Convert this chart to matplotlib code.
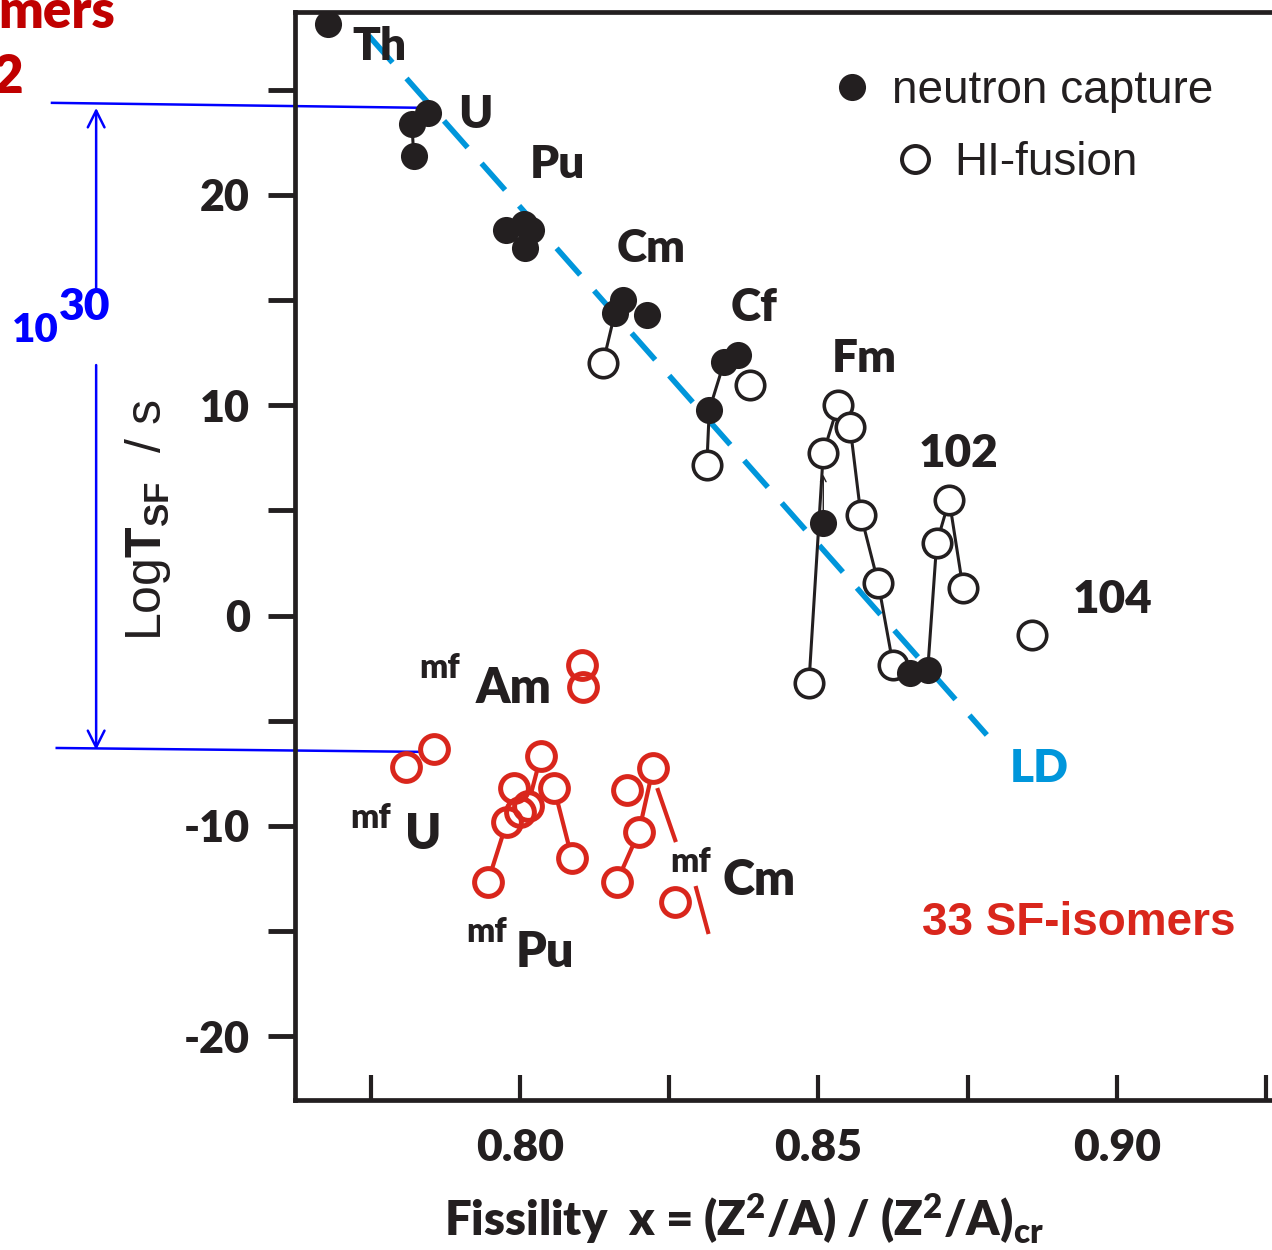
import matplotlib
matplotlib.use("Agg")
import matplotlib.pyplot as plt
from matplotlib.lines import Line2D

ink = '#231f20'
red = '#d9261c'
ld_blue = '#0096db'
blue = '#0000ff'
heavy = 'heavy'

plt.rcParams['mathtext.fontset'] = 'custom'
plt.rcParams['mathtext.rm'] = 'Liberation Sans'
plt.rcParams['mathtext.bf'] = 'Lato:heavy'
plt.rcParams['mathtext.sf'] = 'Liberation Sans:bold'

#################### DATA ####################

# neutron capture (filled)
nc_x = [0.7678, 0.7846, 0.7819, 0.7822, 0.7977, 0.8007, 0.8018, 0.8008,
        0.8159, 0.8173, 0.8213, 0.8342, 0.8365, 0.8317, 0.8508, 0.8653, 0.8683]
nc_y = [28.13, 23.90, 23.38, 21.85, 18.34, 18.62, 18.34, 17.48,
        14.39, 15.01, 14.29, 12.06, 12.39, 9.77, 4.40, -2.73, -2.59]

# HI-fusion (open)
hi_x = [0.8139, 0.8385, 0.8313, 0.8533, 0.8553, 0.8508, 0.8571, 0.8600,
        0.8625, 0.8484, 0.8698, 0.8719, 0.8742, 0.8858]
hi_y = [12.01, 10.96, 7.16, 10.01, 8.97, 7.73, 4.78, 1.55,
        -2.35, -3.21, 3.45, 5.49, 1.31, -0.93]

# isotope chains (black connecting lines)
chains = [
    ([0.7819, 0.7822], [23.38, 21.85]),
    ([0.8159, 0.8139], [14.39, 12.01]),
    ([0.8313, 0.8317, 0.8342], [7.16, 9.77, 12.06]),
    ([0.8484, 0.8508, 0.8533], [-3.21, 7.73, 10.01]),
    ([0.8553, 0.8571, 0.8600, 0.8625], [8.97, 4.78, 1.55, -2.35]),
    ([0.8683, 0.8698, 0.8719, 0.8742], [-2.59, 3.45, 5.49, 1.31]),
]

# fission isomers (red)
iso_x = [0.8104, 0.8106, 0.7809, 0.7856, 0.8035, 0.7990, 0.8057, 0.8013, 0.8000,
         0.7978, 0.8087, 0.7946, 0.8179, 0.8223, 0.8199, 0.8162, 0.8260]
iso_y = [-2.35, -3.40, -7.21, -6.35, -6.68, -8.20, -8.20, -9.06, -9.35,
         -9.82, -11.53, -12.68, -8.30, -7.25, -10.30, -12.68, -13.63]

iso_chains = [
    ([0.8035, 0.8013], [-6.68, -9.06]),
    ([0.8057, 0.8087], [-8.20, -11.53]),
    ([0.7978, 0.7946], [-9.82, -12.68]),
    ([0.8223, 0.8199, 0.8162], [-7.25, -10.30, -12.68]),
    ([0.8231, 0.8260], [-8.30, -10.68]),
    ([0.8295, 0.8315], [-12.96, -15.05]),
]

# liquid drop line
ld_x = [0.7747, 0.8782]
ld_y = [27.56, -5.68]

# element labels
elements = [("Th", 0.7719, 26.42), ("U", 0.7896, 23.19), ("Pu", 0.8017, 20.81),
            ("Cm", 0.8162, 16.81), ("Cf", 0.8352, 14.01), ("Fm", 0.8523, 11.58),
            ("102", 0.8667, 7.06), ("104", 0.8926, 0.12)]
iso_labels = [("Am", 0.7925, -4.16, 0.7832, -2.97), ("U", 0.7807, -11.11, 0.7715, -10.11),
              ("Pu", 0.7993, -16.72, 0.7910, -15.53), ("Cm", 0.8340, -13.29, 0.8251, -12.20)]

xticks = [0.775, 0.80, 0.825, 0.85, 0.875, 0.90, 0.925]
xticklabels = ['', '0.80', '', '0.85', '', '0.90', '']
yticks = [-20, -15, -10, -5, 0, 5, 10, 15, 20, 25]
yticklabels = ['-20', '', '-10', '', '0', '', '10', '', '20', '']

#################### PLOT ####################

fig = plt.figure(figsize=(12.72, 12.5), dpi=100)
ax = fig.add_axes([295 / 1272, 150 / 1250, 1000 / 1272, 1088 / 1250])

ax.plot(ld_x, ld_y, color=ld_blue, lw=4.0, linestyle=(0, (6.4, 3.8)), zorder=2)

for cx, cy in chains:
    ax.plot(cx, cy, color=ink, lw=2.2, zorder=3)
for cx, cy in iso_chains:
    ax.plot(cx, cy, color=red, lw=3.0, zorder=3)

ax.plot(hi_x, hi_y, 'o', ms=20.5, mfc='white', mec=ink, mew=2.6, zorder=4)
ax.plot(nc_x, nc_y, 'o', ms=18, mfc=ink, mec=ink, mew=1.5, zorder=5)

ax.plot(iso_x, iso_y, 'o', ms=20, mfc='white', mec='none', zorder=4)
ax.plot(iso_x, iso_y, 'o', ms=20, mfc='none', mec=red, mew=3.6, zorder=5)

# small arrow on the Fm chain
ax.annotate('', xy=(nc_x[14], 6.7), xytext=(nc_x[14], nc_y[14]),
            arrowprops=dict(arrowstyle='->', color=ink, lw=1.0, shrinkA=0, shrinkB=0))

for txt, x, y in elements:
    ax.text(x, y, txt, fontsize=33, family='Lato', weight=heavy, color=ink, zorder=6)
for txt, x, y, mx, my in iso_labels:
    ax.text(x, y, txt, fontsize=35, family='Lato', weight=heavy, color=ink, zorder=6)
    ax.text(mx, my, 'mf', fontsize=24, family='Lato', weight=heavy, color=ink, zorder=6)

ax.text(0.8821, -7.92, 'LD', fontsize=33, family='Lato', weight=heavy, color=ld_blue)
ax.text(0.8673, -15.20, '33 SF-isomers', fontsize=33, family='Liberation Sans',
        weight='bold', color=red)

# 10^30 span marker on the left
ax.plot([0.7216, 0.7846], [24.38, 24.14], color=blue, lw=1.8, clip_on=False)
ax.plot([0.7224, 0.7853], [-6.30, -6.49], color=blue, lw=1.8, clip_on=False)
ax.annotate('', xy=(0.7290, 24.14), xytext=(0.7290, 15.48), annotation_clip=False,
            arrowprops=dict(arrowstyle='->', color=blue, lw=1.8, shrinkA=0, shrinkB=0,
                            mutation_scale=30))
ax.annotate('', xy=(0.7290, -6.40), xytext=(0.7290, 11.91), annotation_clip=False,
            arrowprops=dict(arrowstyle='->', color=blue, lw=1.8, shrinkA=0, shrinkB=0,
                            mutation_scale=30))
fig.text(12 / 1272, 1 - 342 / 1250, '10', fontsize=29, family='Lato', weight=heavy, color=blue)
fig.text(59 / 1272, 1 - 320 / 1250, '30', fontsize=32, family='Lato', weight=heavy, color=blue)

# cut-off text from the neighbouring panel (cropped in the original too)
fig.text(115 / 1272, 1 - 28 / 1250, 'mers', ha='right', fontsize=38, family='Lato',
         weight=heavy, color='#c00000')
fig.text(23 / 1272, 1 - 93 / 1250, '2', ha='right', fontsize=38, family='Lato',
         weight=heavy, color='#c00000')

# legend
h1 = Line2D([], [], ls='none', marker='o', ms=18, mfc=ink, mec=ink, mew=1.5)
h2 = Line2D([], [], ls='none', marker='o', ms=19.4, mfc='white', mec=ink, mew=2.9)
leg_kw = dict(loc='center left', frameon=False, handlelength=0.6, handletextpad=0.57,
              borderpad=0, borderaxespad=0, labelcolor=ink,
              prop={'family': 'Liberation Sans', 'size': 33})
leg1 = ax.legend([h1], ['neutron capture'], bbox_to_anchor=(0.5437, 0.9274), **leg_kw)
ax.add_artist(leg1)
ax.legend([h2], ['HI-fusion'], bbox_to_anchor=(0.606, 0.861), **leg_kw)

ax.set_xlim(0.76231, 0.92982)
ax.set_ylim(-23.04, 28.70)
ax.set_xticks(xticks)
ax.set_xticklabels(xticklabels)
ax.set_yticks(yticks)
ax.set_yticklabels(yticklabels)
ax.tick_params(axis='y', direction='out', length=19.5, width=3.5, pad=13,
               labelsize=31, color=ink, labelcolor=ink)
ax.tick_params(axis='x', direction='in', length=18, width=3, pad=20,
               labelsize=32, color=ink, labelcolor=ink)
for t in ax.get_xticklabels() + ax.get_yticklabels():
    t.set_fontfamily('Lato')
    t.set_fontweight(heavy)

ax.spines['right'].set_visible(False)
for s in ['left', 'top', 'bottom']:
    ax.spines[s].set_linewidth(3.4)
    ax.spines[s].set_color(ink)

fig.text(148 / 1272, 1 - 520 / 1250, 'Log$\\mathsf{T}_{\\mathsf{SF}}$  / s', rotation=90,
         ha='center', va='center', fontsize=36, family='Liberation Sans', color=ink)
fig.text(744 / 1272, 1 - 1235 / 1250,
         'Fissility  x = (Z$^{\\mathbf{2}}$/A) / (Z$^{\\mathbf{2}}$/A)$_{\\mathbf{cr}}$',
         ha='center', va='baseline', fontsize=34, family='Lato', weight=heavy, color=ink)

plt.savefig('out.png', dpi=100)
